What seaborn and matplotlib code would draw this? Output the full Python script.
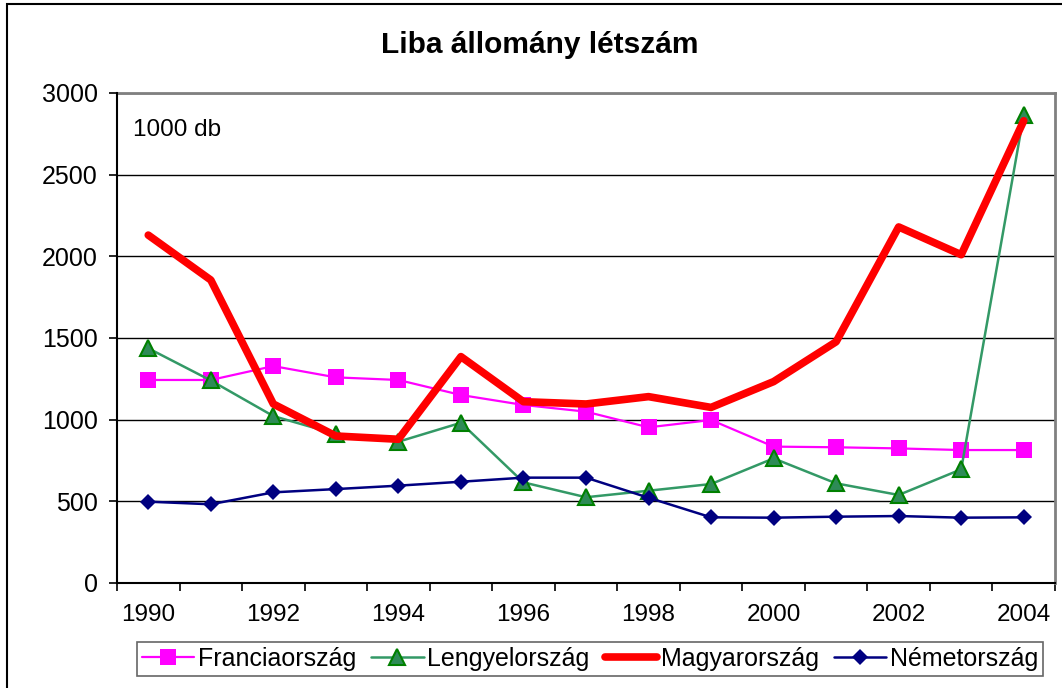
import matplotlib

matplotlib.use("Agg")
import matplotlib.pyplot as plt
import pandas as pd
import seaborn as sns
from matplotlib.patches import Rectangle

# adatok (1000 db)
evek = list(range(1990, 2005))
francia = [1243, 1243, 1328, 1259, 1243, 1151, 1090, 1049, 953, 998, 835, 831, 824, 814, 814]
lengyel = [1437, 1240, 1022, 912, 865, 981, 616, 525, 565, 606, 763, 610, 539, 696, 2865]
magyar = [2130, 1855, 1096, 900, 880, 1386, 1110, 1096, 1141, 1075, 1233, 1477, 2180, 2010, 2830]
nemet = [498, 482, 555, 575, 596, 620, 645, 645, 522, 402, 400, 406, 410, 400, 402]
x_cimkek = [str(ev) for ev in evek[::2]]

df = pd.DataFrame(
    {
        "poz": [ev - evek[0] for ev in evek],
        "Franciaország": francia,
        "Lengyelország": lengyel,
        "Magyarország": magyar,
        "Németország": nemet,
    }
)

sns.set_style("white")
plt.rcParams["font.family"] = ["Liberation Sans", "DejaVu Sans"]
plt.rcParams["text.color"] = "black"
plt.rcParams["xtick.color"] = "black"
plt.rcParams["ytick.color"] = "black"
plt.rcParams["axes.labelcolor"] = "black"

fig = plt.figure(figsize=(10.62, 6.88), dpi=100)
fig.patch.set_facecolor("white")
W, H = 1062, 688
ax = fig.add_axes([117 / W, 1 - 583 / H, (1055 - 117) / W, 490 / H])

"Vonalak"
stilusok = {
    "Franciaország": dict(color="#FF00FF", marker="s", markersize=11, linewidth=1.6,
                          markeredgewidth=0, zorder=3),
    "Lengyelország": dict(color="#339966", marker="^", markersize=12, linewidth=1.8,
                          markerfacecolor="#2E8B57", markeredgecolor="#008000",
                          markeredgewidth=1.5, zorder=3),
    "Magyarország": dict(color="#FF0000", linewidth=5.5, zorder=4),
    "Németország": dict(color="#000080", marker="D", markersize=8.5, linewidth=1.8,
                        markeredgewidth=0, zorder=5),
}
for nev, st in stilusok.items():
    sns.lineplot(data=df, x="poz", y=nev, ax=ax, label=nev, **st)

handles, labels = ax.get_legend_handles_labels()
ax.get_legend().remove()

"Tengelyek"
ax.set_xlim(-0.5, len(evek) - 0.5)
ax.set_ylim(0, 3000)
ax.set_yticks(range(0, 3001, 500))
ax.set_xticks(range(0, len(evek), 2))
ax.set_xticklabels(x_cimkek)
ax.set_xticks([i - 0.5 for i in range(len(evek) + 1)], minor=True)
ax.set_xlabel("")
ax.set_ylabel("")
ax.tick_params(axis="x", which="major", length=0, pad=15, labelsize=17.5, colors="black")
ax.tick_params(axis="x", which="minor", length=6, width=1.2, direction="out",
               bottom=True, color="black")
ax.tick_params(axis="y", length=6, width=1.2, direction="out", left=True,
               pad=8, labelsize=18, colors="black")

ax.grid(axis="y", color="black", linewidth=1, zorder=1)
ax.grid(axis="x", visible=False)
ax.set_axisbelow(True)
for s in ["left", "bottom"]:
    ax.spines[s].set_color("black")
    ax.spines[s].set_linewidth(1.5)
for s in ["top", "right"]:
    ax.spines[s].set_color("#808080")
    ax.spines[s].set_linewidth(2)
ax.spines["left"].set_zorder(6)
ax.spines["bottom"].set_zorder(6)

"Feliratok"
ax.text(16 / 938, (583 - 130) / 490, "1000 db", transform=ax.transAxes,
        ha="left", va="center", fontsize=17.5, color="black")
fig.text(540 / W, 1 - 45 / H, "Liba állomány létszám", ha="center", va="center",
         fontsize=21.5, fontweight="bold", color="black")

"Jelmagyarázat"
leg = fig.legend(
    handles, labels,
    loc="center",
    bbox_to_anchor=(590 / W, 1 - 659 / H),
    ncol=4,
    fontsize=18,
    frameon=True,
    fancybox=False,
    handlelength=2.1,
    handletextpad=0.15,
    columnspacing=0.6,
    borderpad=0.2,
    borderaxespad=0,
)
leg.get_frame().set_edgecolor("#404040")
leg.get_frame().set_linewidth(1.2)
for t in leg.get_texts():
    t.set_color("black")

"Külső keret"
fig.add_artist(Rectangle((7 / W, -0.1), 1.2, 1.1 - 4 / H, transform=fig.transFigure,
                         fill=False, edgecolor="black", linewidth=1.5, clip_on=False))

fig.savefig("out.png", dpi=100, facecolor=fig.get_facecolor())
plt.close(fig)
